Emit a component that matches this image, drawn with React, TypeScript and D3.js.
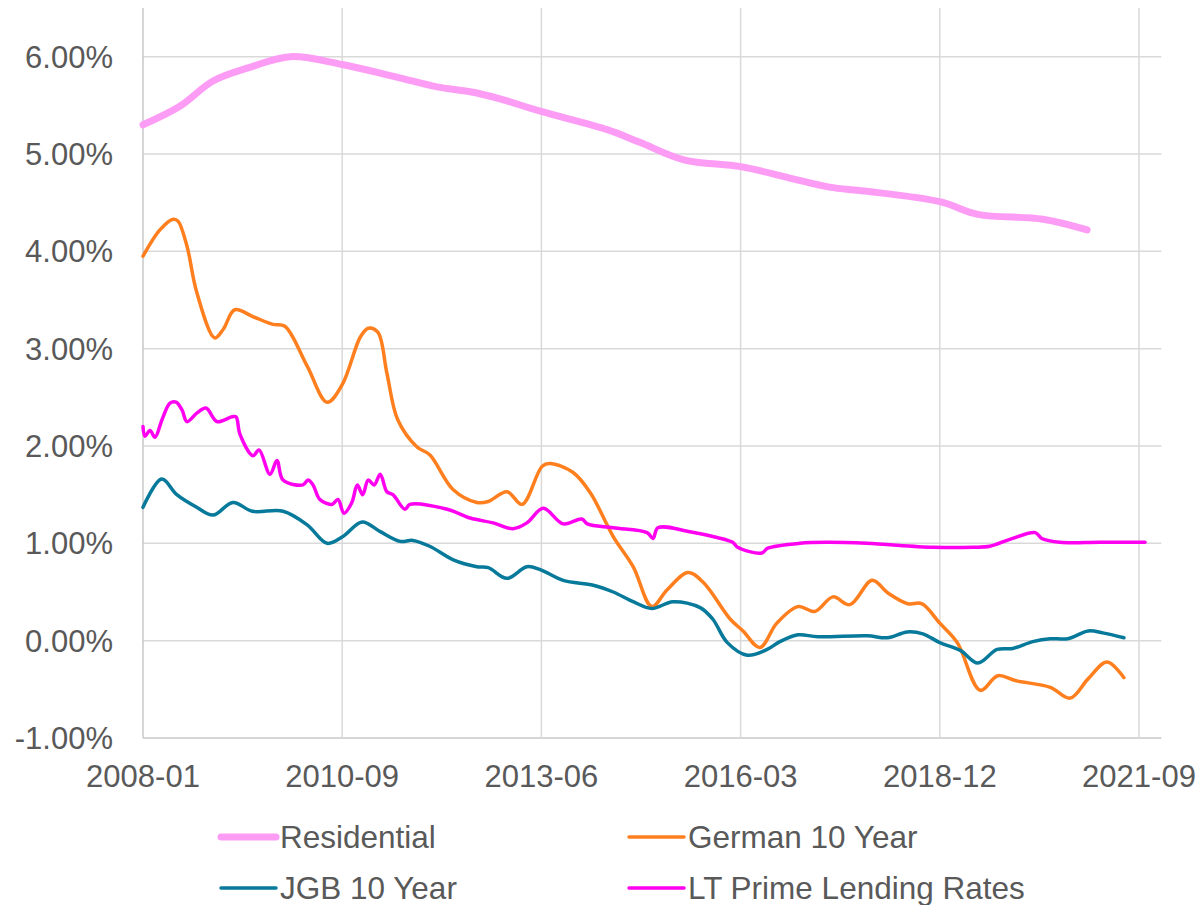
import React from "react";
import * as d3 from "d3";

// x values are months elapsed since 2008-01
const tickMonths = [0, 33, 66, 99, 132, 165];
const tickLabels = ["2008-01", "2010-09", "2013-06", "2016-03", "2018-12", "2021-09"];
const yTicks = [-1, 0, 1, 2, 3, 4, 5, 6];

const residentialMonths = [0, 6.1, 11.6, 17.7, 24.4, 33, 42, 48.7, 54.2, 59, 65.8, 76.9, 82.3, 89.6, 99, 106.7, 113.7, 119.5, 132, 138.3, 149.1, 156.4];
const residentialValues = [5.3, 5.49, 5.75, 5.89, 6.0, 5.92, 5.79, 5.69, 5.64, 5.57, 5.44, 5.25, 5.12, 4.94, 4.87, 4.76, 4.66, 4.62, 4.51, 4.38, 4.33, 4.22];

const germanMonths = [0, 2.8, 5, 5.8, 7.3, 8.9, 11.9, 13.3, 15.2, 18.2, 21.5, 23.5, 27.2, 30.5, 33, 36, 37.3, 38.9, 40.4, 42.2, 45.4, 47.5, 51.4, 55.3, 57.2, 60.3, 62.8, 66.1, 67.4, 71.2, 74.1, 77.9, 81.2, 84.3, 86.8, 90.3, 92.8, 97.3, 99.4, 102.2, 105, 108.5, 111.3, 114.3, 117.1, 120.8, 123.4, 126.7, 129, 132, 134.9, 138.7, 141.6, 144.5, 150.3, 153.6, 156.6, 159.7, 162.5];
const germanValues = [3.95, 4.22, 4.33, 4.31, 4.05, 3.58, 3.11, 3.2, 3.4, 3.33, 3.25, 3.23, 2.82, 2.45, 2.63, 3.12, 3.21, 3.17, 2.75, 2.27, 1.99, 1.91, 1.55, 1.42, 1.43, 1.53, 1.4, 1.79, 1.82, 1.73, 1.52, 1.07, 0.76, 0.35, 0.52, 0.7, 0.6, 0.22, 0.1, -0.07, 0.18, 0.35, 0.3, 0.45, 0.37, 0.62, 0.49, 0.38, 0.38, 0.18, -0.02, -0.51, -0.36, -0.41, -0.48, -0.59, -0.39, -0.22, -0.38];

const jgbMonths = [0, 3.1, 5.6, 8.9, 11.6, 14.9, 18.1, 23.2, 27.2, 30.5, 33.1, 36.3, 39.3, 42.6, 44.7, 47.5, 51.4, 55.3, 57.2, 60.3, 63.6, 65.8, 69.6, 74.6, 77.9, 81.2, 84.3, 87.8, 92.3, 94.4, 96.8, 100.1, 103.4, 105.5, 108.5, 111.8, 120, 123.3, 126.6, 129.2, 132, 135.4, 138.3, 141.5, 144.1, 147.4, 150.3, 153.2, 156.6, 159, 162.5];
const jgbValues = [1.37, 1.66, 1.5, 1.37, 1.29, 1.42, 1.33, 1.33, 1.19, 1.0, 1.07, 1.22, 1.12, 1.02, 1.03, 0.97, 0.83, 0.76, 0.75, 0.64, 0.76, 0.73, 0.62, 0.57, 0.5, 0.4, 0.33, 0.4, 0.34, 0.22, -0.02, -0.15, -0.09, -0.01, 0.06, 0.04, 0.05, 0.03, 0.09, 0.07, -0.02, -0.1, -0.23, -0.09, -0.08, -0.01, 0.02, 0.02, 0.1, 0.08, 0.03];

const primeMonths = [0, 0.33, 1.16, 1.99, 3.15, 4.47, 5.47, 6.46, 7.29, 8.95, 10.44, 12.26, 14.74, 15.41, 16.07, 18.22, 19.22, 21.04, 22.2, 23.2, 26.5, 27.34, 28.17, 29.3, 31.3, 32.3, 33.3, 34.6, 35.5, 36.4, 37.3, 38.3, 39.3, 40.4, 41.4, 43.4, 44.2, 50.4, 54.2, 58, 61.3, 63.6, 66.3, 69.6, 72.7, 73.6, 77.9, 83.5, 84.5, 85.3, 90.6, 95.1, 97.7, 98.5, 102.5, 103.5, 108.8, 113.3, 119.9, 130.9, 137.5, 140.3, 143.6, 147.8, 148.9, 151.9, 158.5, 166];
const primeValues = [2.2, 2.1, 2.16, 2.09, 2.27, 2.44, 2.45, 2.37, 2.25, 2.34, 2.39, 2.25, 2.3, 2.3, 2.12, 1.9, 1.96, 1.71, 1.85, 1.65, 1.6, 1.65, 1.6, 1.45, 1.4, 1.45, 1.31, 1.42, 1.6, 1.5, 1.65, 1.6, 1.71, 1.53, 1.5, 1.35, 1.4, 1.35, 1.26, 1.21, 1.15, 1.21, 1.36, 1.2, 1.25, 1.2, 1.16, 1.11, 1.05, 1.16, 1.12, 1.06, 1.01, 0.96, 0.9, 0.95, 1.0, 1.01, 1.0, 0.96, 0.96, 0.97, 1.04, 1.11, 1.05, 1.01, 1.01, 1.01];

const seriesNames = ["Residential", "German 10 Year", "JGB 10 Year", "LT Prime Lending Rates"];

const W = 1201;
const H = 905;
const left = 143;
const top = 8;
const bottom = 738;
const font = "'Liberation Sans', Arial, sans-serif";

export default function App() {
  const x = d3.scaleLinear().domain([0, 165]).range([left, 1139]);
  const y = d3.scaleLinear().domain([-1, 6.5]).range([bottom, top]);
  const right = x(168.7);

  const line = d3
    .line<[number, number]>()
    .x((d) => x(d[0]))
    .y((d) => y(d[1]))
    .curve(d3.curveCatmullRom.alpha(0.5));

  const zip = (ms: number[], vs: number[]) => ms.map((m, i) => [m, vs[i]] as [number, number]);

  const series = [
    { name: seriesNames[0], data: zip(residentialMonths, residentialValues), color: "#fd9cf5", width: 7 },
    { name: seriesNames[1], data: zip(germanMonths, germanValues), color: "#ff7f1f", width: 3.5 },
    { name: seriesNames[2], data: zip(jgbMonths, jgbValues), color: "#07799a", width: 3.5 },
    { name: seriesNames[3], data: zip(primeMonths, primeValues), color: "#ff00f0", width: 3.5 },
  ];

  const legend = [
    { s: series[0], lx: 221, ly: 837 },
    { s: series[1], lx: 629, ly: 837 },
    { s: series[2], lx: 221, ly: 888 },
    { s: series[3], lx: 629, ly: 888 },
  ];

  const fmt = (t: number) => t.toFixed(2) + "%";

  return (
    <svg width={W} height={H} style={{ display: "block", position: "absolute", left: 0, top: 0 }}>
      <rect width={W} height={H} fill="#ffffff" />
      {yTicks.map((t) => (
        <line key={"h" + t} x1={left} x2={right} y1={y(t)} y2={y(t)} stroke={t === -1 ? "#c8c8c8" : "#d9d9d9"} strokeWidth={1.5} />
      ))}
      {tickMonths.map((m, i) => (
        <line key={"v" + i} x1={x(m)} x2={x(m)} y1={top} y2={bottom} stroke={i === 0 ? "#c8c8c8" : "#d9d9d9"} strokeWidth={1.5} />
      ))}
      {yTicks.map((t) => (
        <text key={"yl" + t} x={113} y={y(t)} dy="0.36em" textAnchor="end" fontFamily={font} fontSize={31} fill="#595959">
          {fmt(t)}
        </text>
      ))}
      {tickMonths.map((m, i) => (
        <text key={"xl" + i} x={x(m)} y={787} textAnchor="middle" fontFamily={font} fontSize={31} fill="#595959">
          {tickLabels[i]}
        </text>
      ))}
      {series.map((s) => (
        <path key={s.name} d={line(s.data) || ""} fill="none" stroke={s.color} strokeWidth={s.width} strokeLinecap="round" strokeLinejoin="round" />
      ))}
      {legend.map((l) => (
        <g key={"lg" + l.s.name}>
          <line x1={l.lx} x2={l.lx + 55} y1={l.ly} y2={l.ly} stroke={l.s.color} strokeWidth={l.s.width} strokeLinecap="round" />
          <text x={l.lx + 59} y={l.ly} dy="0.36em" fontFamily={font} fontSize={31.5} fill="#595959">
            {l.s.name}
          </text>
        </g>
      ))}
    </svg>
  );
}
